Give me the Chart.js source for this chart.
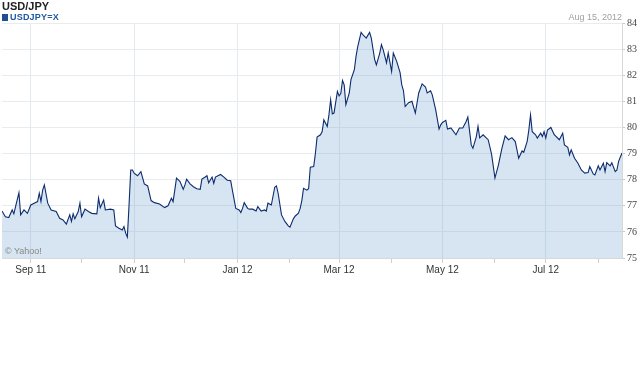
<!DOCTYPE html>
<html>
<head>
<meta charset="utf-8">
<script src="https://cdn.jsdelivr.net/npm/chart.js@4/dist/chart.umd.min.js"></script>
<style>
    body { margin: 0; background: #fff; font-family: "Liberation Sans", Arial, sans-serif; }
    #wrap { position: relative; width: 640px; height: 380px; }
    #title { position: absolute; left: 2px; top: 0px; font-size: 11px; font-weight: bold; color: #222; }
    #series { position: absolute; left: 2px; top: 12px; font-size: 9px; font-weight: bold; color: #1d5aa0; letter-spacing: 0.2px; }
    #series i { display: inline-block; width: 6px; height: 7px; background: #1f4f8e; margin-right: 2px; vertical-align: -1px; }
    #date { position: absolute; right: 18px; top: 12px; font-size: 9px; color: #a0a0a0; }
    #credit { position: absolute; left: 5px; top: 246px; font-size: 9px; color: #888; }
</style>
</head>
<body>
<div id="wrap">
    <canvas id="chart" width="640" height="380"></canvas>
    <div id="title">USD/JPY</div>
    <div id="series"><i></i>USDJPY=X</div>
    <div id="date">Aug 15, 2012</div>
    <div id="credit">© Yahoo!</div>
</div>
<script>
// days since Aug 15, 2011 and the close
const days = [0,2,4,6,7,8,10,11,13,15,17,19,21,22,23,24,25,27,29,32,34,36,38,40,41,42,43,45,46,47,49,51,53,56,57,58,60,61,64,66,67,69,71,72,73,74,75,76,77,78,80,82,84,86,88,90,93,96,98,100,101,102,103,105,107,108,109,111,113,115,117,118,120,121,122,124,125,126,129,131,133,135,136,138,140,141,142,143,145,146,148,150,151,153,155,156,157,159,161,162,163,165,167,169,170,172,173,175,176,177,178,180,181,182,184,185,186,188,189,190,192,193,194,195,196,198,199,200,201,202,203,205,206,208,209,210,212,213,215,217,218,220,221,223,224,225,227,228,230,231,233,235,236,237,238,240,242,244,246,248,250,251,253,254,256,258,259,260,262,263,265,268,270,272,274,275,276,277,278,280,281,282,284,287,289,291,293,295,297,299,301,303,305,307,308,310,311,312,313,315,316,318,319,320,321,322,324,326,329,331,332,334,335,336,338,340,342,344,346,347,349,350,352,353,355,356,357,359,360,362,363,364,366];
const usdJpy = [76.8,76.58,76.55,76.84,76.69,76.97,77.5,76.65,76.84,76.71,77.03,77.1,77.16,77.48,77.16,77.6,77.8,77.1,76.84,76.78,76.52,76.46,76.3,76.65,76.4,76.69,76.5,76.78,77.1,76.58,76.87,76.78,76.71,76.69,77.29,76.93,77.22,76.84,76.87,76.84,76.23,76.14,76.07,76.2,75.95,75.8,77.03,78.37,78.37,78.25,78.15,78.31,77.84,77.76,77.2,77.12,77.07,76.93,77.0,77.29,77.16,77.6,78.06,77.94,77.63,77.8,78.02,77.84,77.73,77.65,77.63,78.02,78.1,78.15,77.88,78.1,77.86,78.1,78.2,78.1,77.98,77.96,77.6,76.9,76.84,76.74,76.9,77.12,76.9,76.87,76.87,76.8,76.97,76.8,76.84,76.8,77.1,77.03,77.71,77.76,77.48,76.65,76.4,76.23,76.18,76.5,76.6,76.72,76.9,77.2,77.67,77.6,77.65,78.48,78.5,79.0,79.63,79.72,79.84,80.29,80.04,80.48,81.06,80.52,80.55,81.38,81.21,81.3,81.8,81.63,80.87,81.32,81.83,82.21,82.72,83.1,83.64,83.55,83.42,83.64,83.42,82.6,82.4,82.85,83.17,82.98,82.47,82.85,82.14,82.85,82.53,82.1,81.63,81.4,80.8,80.95,81.0,80.55,81.32,81.67,81.55,81.32,81.4,81.25,80.68,79.94,80.1,80.19,80.27,79.94,79.98,79.72,79.98,79.98,80.23,80.4,79.88,79.33,79.2,79.65,80.04,79.6,79.72,79.53,78.98,78.06,78.55,79.17,79.68,79.53,79.61,79.46,78.82,79.1,79.05,79.46,79.9,80.48,79.84,79.72,79.59,79.78,79.65,79.84,79.59,79.9,80.0,79.72,79.53,79.78,79.33,79.24,78.95,79.14,78.82,78.63,78.37,78.25,78.27,78.5,78.22,78.18,78.53,78.37,78.63,78.31,78.65,78.53,78.65,78.31,78.37,78.7,79.02];

// first day of each month, as days since Aug 15, 2011
const monthTicks = [17,47,78,108,139,170,199,230,260,291,321,352];
const monthLabels = ['Sep 11','','Nov 11','','Jan 12','','Mar 12','','May 12','','Jul 12',''];

const points = days.map(function(d, i) { return {x: d, y: usdJpy[i]}; });

const labelAt = function(v) {
    var i = monthTicks.indexOf(v);
    return i < 0 ? '' : monthLabels[i];
}

new Chart(document.getElementById('chart').getContext('2d'), {
    type: 'line',
    data: {
        datasets: [{
            label: 'USDJPY=X',
            data: points,
            borderColor: '#0d2c6e',
            borderWidth: 1.1,
            backgroundColor: 'rgba(90,150,200,0.25)',
            fill: 'start',
            tension: 0,
            pointRadius: 0
        }]
    },
    options: {
        responsive: false,
        animation: false,
        layout: { padding: { top: 23, left: 2, right: 0, bottom: 100 } },
        plugins: { legend: { display: false }, tooltip: { enabled: false } },
        scales: {
            x: {
                type: 'linear',
                min: 0,
                max: 366,
                afterBuildTicks: function(s) { s.ticks = monthTicks.map(function(v) { return {value: v}; }); },
                afterFit: function(s) { s.height = 22; },
                ticks: {
                    autoSkip: false,
                    maxRotation: 0,
                    padding: 1,
                    color: '#333',
                    font: { family: 'Liberation Sans', size: 10 },
                    callback: function(v) { return labelAt(v); }
                },
                grid: {
                    color: function(c) { return c.tick && labelAt(c.tick.value) ? '#e3eaf0' : 'rgba(0,0,0,0)'; },
                    tickColor: '#d0d0d0',
                    tickLength: 5
                },
                border: { color: '#d8d8d8' }
            },
            y: {
                position: 'right',
                min: 75,
                max: 84,
                afterFit: function(s) { s.width = 18; },
                ticks: {
                    stepSize: 1,
                    padding: 2,
                    color: '#444',
                    font: { family: 'Liberation Sans Narrow', size: 10 }
                },
                grid: { color: '#e8ecef', tickColor: '#c8c8c8', tickLength: 3 },
                border: { color: '#d8d8d8' }
            }
        }
    }
});
</script>
</body>
</html>
